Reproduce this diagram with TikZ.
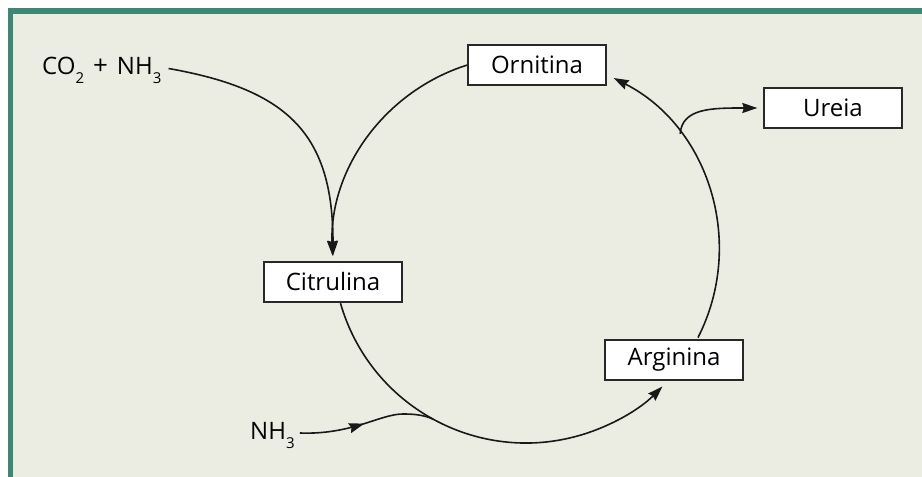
\documentclass[tikz,border=0pt]{standalone}
\usepackage{fontspec}
\setmainfont{Open Sans}
\usetikzlibrary{arrows.meta,decorations.markings}
\definecolor{frameteal}{RGB}{62,135,118}
\definecolor{bgbeige}{RGB}{236,237,226}
\definecolor{boxline}{RGB}{40,40,40}
\newcommand\subs[1]{\raisebox{-0.34em}{\fontsize{15}{15}\selectfont #1}}
\begin{document}
\begin{tikzpicture}[x=1pt,y=1pt,
  box/.style={draw=boxline, line width=1.3pt, fill=white, minimum width=138pt,
    minimum height=40pt, inner sep=0pt, font=\fontsize{24}{28}\selectfont},
  lbl/.style={inner sep=0pt, font=\fontsize{24}{28}\selectfont},
  conn/.style={line width=1.6pt, draw=black!90},
  tip/.style={-{Stealth[length=15pt,width=10pt,inset=1.5pt]}},
  midtip/.style={decoration={markings, mark=at position #1 with {\arrow{Stealth[length=15pt,width=10pt,inset=1.5pt]}}}, postaction=decorate}
]
\useasboundingbox (0,0) rectangle (922,477);
\fill[bgbeige] (13,0) rectangle (922,463);
\fill[frameteal] (8,463) rectangle (922,469);
\fill[frameteal] (8,0) rectangle (13,469);

\coordinate (c) at (526,227);
\node[box] (orn) at (537,412) {Ornitina};
\node[box] (ure) at (833,369) {Ureia};
\node[box] (cit) at (333,195) {Citrulina};
\node[box] (arg) at (674,117) {Arginina};
\node[lbl, anchor=base west] (co2) at (42,402) {CO\subs{2}\hspace{9pt}{\fontsize{26}{28}\selectfont +}\hspace{9pt}NH\subs{3}};
\node[lbl, anchor=base west] (nh3) at (250,37) {NH\subs{3}};

% Ornitina -> Citrulina
\draw[conn,tip] (orn.west) arc[start angle=107.5, end angle=182, radius=193];
% CO2 + NH3 -> Citrulina
\draw[conn,tip] ([xshift=7pt,yshift=6.5pt]co2.base east) to[out=-10, in=90, looseness=1.25] ([yshift=5.5pt]cit.north);
% Citrulina -> Arginina
\draw[conn,tip] (c) ++(196:193) arc[start angle=196, end angle=315, radius=193];
% Arginina -> Ornitina
\draw[conn,tip] (c) ++(-27:193) arc[start angle=-27, end angle=63, radius=193];
% branch to Ureia
\coordinate (ub) at ([shift={(37:193)}]c);
\draw[conn,tip] (ub) .. controls +(2,26) and +(-45,0) .. ([xshift=-6pt]ure.west);
% NH3 joining
\coordinate (nb) at ([shift={(241.2:193)}]c);
\draw[conn,midtip=0.48] ([xshift=5pt,yshift=7pt]nh3.base east) .. controls +(52,-2) and +(-23,0) .. (403,63) .. controls +(12,0) and +(-9,4) .. (nb);
\end{tikzpicture}
\end{document}
